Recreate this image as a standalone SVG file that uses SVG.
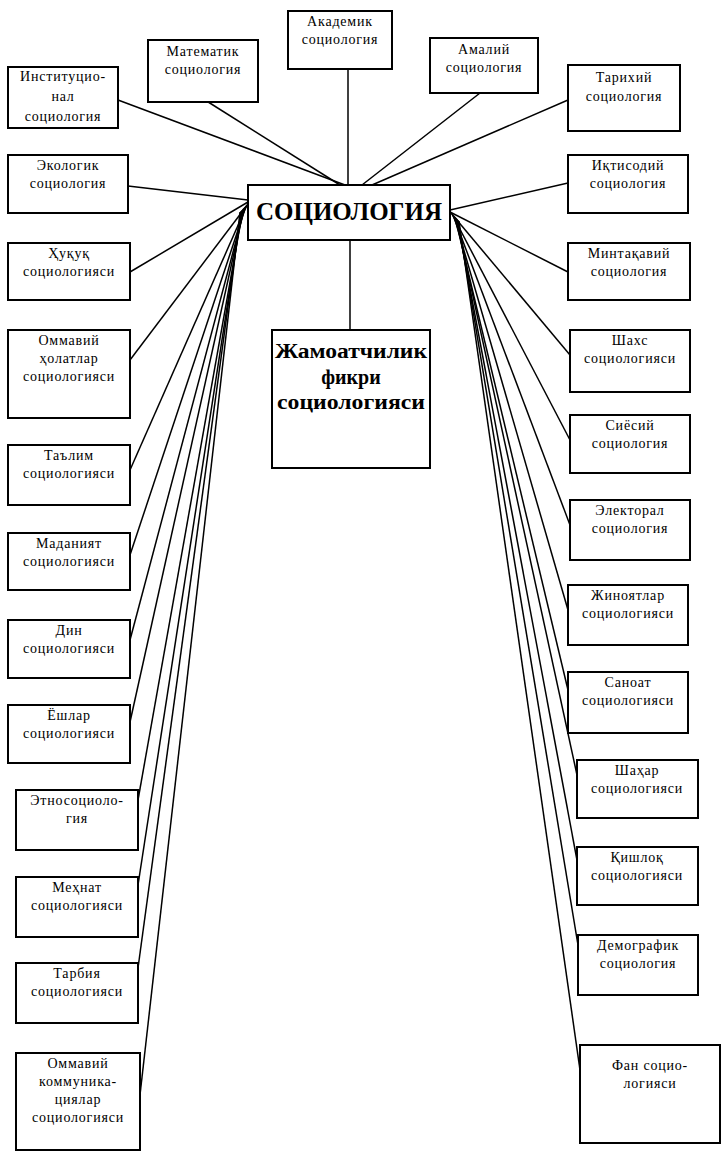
<svg xmlns="http://www.w3.org/2000/svg" width="725" height="1174" viewBox="0 0 725 1174">
<style>
.b{fill:#fff;stroke:#000;stroke-width:2}
.t{font-family:"Liberation Serif","Times New Roman",serif;font-size:14px;letter-spacing:0.8px;fill:#000;text-anchor:middle}
.c{stroke:#000;stroke-width:1.5;fill:none}
.h{font-family:"Liberation Serif","Times New Roman",serif;font-weight:bold;fill:#000;text-anchor:middle}
</style>
<rect width="725" height="1174" fill="#fff"/>
<g id="connectors">
<line class="c" x1="348" y1="69" x2="348" y2="185"/>
<line class="c" x1="350" y1="240" x2="350" y2="330"/>
<line class="c" x1="118" y1="100" x2="345" y2="185"/>
<line class="c" x1="205" y1="100" x2="340" y2="185"/>
<line class="c" x1="480" y1="93" x2="362" y2="185"/>
<line class="c" x1="568" y1="100" x2="372" y2="185"/>
<line class="c" x1="128" y1="186" x2="248" y2="200"/>
<line class="c" x1="130" y1="272" x2="248" y2="202"/>
<line class="c" x1="130" y1="360" x2="248" y2="204"/>
<line class="c" x1="130" y1="470" x2="247" y2="205"/>
<line class="c" x1="130" y1="555" x2="246" y2="206"/>
<line class="c" x1="130" y1="640" x2="245" y2="207"/>
<line class="c" x1="130" y1="722" x2="244" y2="208"/>
<line class="c" x1="138" y1="800" x2="243" y2="209"/>
<line class="c" x1="138" y1="885" x2="242" y2="210"/>
<line class="c" x1="138" y1="968" x2="241" y2="211"/>
<line class="c" x1="140" y1="1095" x2="240" y2="212"/>
<line class="c" x1="568" y1="183" x2="450" y2="210"/>
<line class="c" x1="568" y1="272" x2="450" y2="212"/>
<line class="c" x1="570" y1="355" x2="451" y2="213"/>
<line class="c" x1="570" y1="440" x2="452" y2="214"/>
<line class="c" x1="570" y1="525" x2="453" y2="215"/>
<line class="c" x1="568" y1="610" x2="454" y2="216"/>
<line class="c" x1="568" y1="690" x2="455" y2="217"/>
<line class="c" x1="577" y1="775" x2="456" y2="218"/>
<line class="c" x1="577" y1="860" x2="457" y2="219"/>
<line class="c" x1="578" y1="945" x2="458" y2="220"/>
<line class="c" x1="580" y1="1070" x2="459" y2="221"/>
</g>
<g id="n-sociology"><rect class="b" x="248" y="185" width="202" height="55"/><text class="h" x="349" y="220" font-size="25">СОЦИОЛОГИЯ</text></g>
<g id="n-public"><rect class="b" x="272" y="330" width="158" height="138"/><text class="h" x="351" y="358" font-size="20" textLength="152" lengthAdjust="spacingAndGlyphs">Жамоатчилик</text><text class="h" x="351" y="384" font-size="20">фикри</text><text class="h" x="351" y="409" font-size="20" textLength="148" lengthAdjust="spacingAndGlyphs">социологияси</text></g>
<g id="n-akad"><rect class="b" x="288" y="11" width="104" height="58"/><text class="t" x="340" y="26">Академик</text><text class="t" x="340" y="44">социология</text></g>
<g id="n-mat"><rect class="b" x="148" y="40" width="110" height="62"/><text class="t" x="203" y="56">Математик</text><text class="t" x="203" y="74">социология</text></g>
<g id="n-amal"><rect class="b" x="430" y="38" width="108" height="55"/><text class="t" x="484" y="54">Амалий</text><text class="t" x="484" y="72">социология</text></g>
<g id="n-inst"><rect class="b" x="8" y="67" width="110" height="61"/><text class="t" x="63" y="81">Институцио-</text><text class="t" x="63" y="101">нал</text><text class="t" x="63" y="121">социология</text></g>
<g id="n-tarix"><rect class="b" x="568" y="65" width="112" height="66"/><text class="t" x="624" y="82">Тарихий</text><text class="t" x="624" y="101">социология</text></g>
<g id="n-ekol"><rect class="b" x="8" y="155" width="120" height="58"/><text class="t" x="68" y="170">Экологик</text><text class="t" x="68" y="188">социология</text></g>
<g id="n-huquq"><rect class="b" x="8" y="243" width="122" height="57"/><text class="t" x="69" y="258">Ҳуқуқ</text><text class="t" x="69" y="276">социологияси</text></g>
<g id="n-ommaviy"><rect class="b" x="8" y="330" width="122" height="88"/><text class="t" x="69" y="345">Оммавий</text><text class="t" x="69" y="363">ҳолатлар</text><text class="t" x="69" y="381">социологияси</text></g>
<g id="n-talim"><rect class="b" x="8" y="445" width="122" height="60"/><text class="t" x="69" y="460">Таълим</text><text class="t" x="69" y="478">социологияси</text></g>
<g id="n-madan"><rect class="b" x="8" y="533" width="122" height="57"/><text class="t" x="69" y="548">Маданият</text><text class="t" x="69" y="566">социологияси</text></g>
<g id="n-din"><rect class="b" x="8" y="620" width="122" height="58"/><text class="t" x="69" y="635">Дин</text><text class="t" x="69" y="653">социологияси</text></g>
<g id="n-yoshlar"><rect class="b" x="8" y="705" width="122" height="58"/><text class="t" x="69" y="720">Ёшлар</text><text class="t" x="69" y="738">социологияси</text></g>
<g id="n-etno"><rect class="b" x="16" y="790" width="122" height="60"/><text class="t" x="77" y="805">Этносоциоло-</text><text class="t" x="77" y="823">гия</text></g>
<g id="n-mehnat"><rect class="b" x="16" y="877" width="122" height="60"/><text class="t" x="77" y="892">Меҳнат</text><text class="t" x="77" y="910">социологияси</text></g>
<g id="n-tarbiya"><rect class="b" x="16" y="963" width="122" height="60"/><text class="t" x="77" y="978">Тарбия</text><text class="t" x="77" y="996">социологияси</text></g>
<g id="n-kommun"><rect class="b" x="16" y="1053" width="124" height="97"/><text class="t" x="78" y="1068">Оммавий</text><text class="t" x="78" y="1086">коммуника-</text><text class="t" x="78" y="1104">циялар</text><text class="t" x="78" y="1122">социологияси</text></g>
<g id="n-iqtisod"><rect class="b" x="568" y="155" width="120" height="58"/><text class="t" x="628" y="170">Иқтисодий</text><text class="t" x="628" y="188">социология</text></g>
<g id="n-mintaqa"><rect class="b" x="568" y="243" width="122" height="57"/><text class="t" x="629" y="258">Минтақавий</text><text class="t" x="629" y="276">социология</text></g>
<g id="n-shaxs"><rect class="b" x="570" y="330" width="120" height="62"/><text class="t" x="630" y="345">Шахс</text><text class="t" x="630" y="363">социологияси</text></g>
<g id="n-siyosiy"><rect class="b" x="570" y="415" width="120" height="58"/><text class="t" x="630" y="430">Сиёсий</text><text class="t" x="630" y="448">социология</text></g>
<g id="n-elektor"><rect class="b" x="570" y="500" width="120" height="60"/><text class="t" x="630" y="515">Электорал</text><text class="t" x="630" y="533">социология</text></g>
<g id="n-jinoyat"><rect class="b" x="568" y="585" width="120" height="60"/><text class="t" x="628" y="600">Жиноятлар</text><text class="t" x="628" y="618">социологияси</text></g>
<g id="n-sanoat"><rect class="b" x="568" y="672" width="120" height="61"/><text class="t" x="628" y="687">Саноат</text><text class="t" x="628" y="705">социологияси</text></g>
<g id="n-shahar"><rect class="b" x="577" y="760" width="121" height="58"/><text class="t" x="637" y="775">Шаҳар</text><text class="t" x="637" y="793">социологияси</text></g>
<g id="n-qishloq"><rect class="b" x="577" y="847" width="121" height="58"/><text class="t" x="637" y="862">Қишлоқ</text><text class="t" x="637" y="880">социологияси</text></g>
<g id="n-demog"><rect class="b" x="578" y="935" width="120" height="60"/><text class="t" x="638" y="950">Демографик</text><text class="t" x="638" y="968">социология</text></g>
<g id="n-fan"><rect class="b" x="580" y="1045" width="140" height="98"/><text class="t" x="650" y="1070">Фан социо-</text><text class="t" x="650" y="1088">логияси</text></g>
</svg>
